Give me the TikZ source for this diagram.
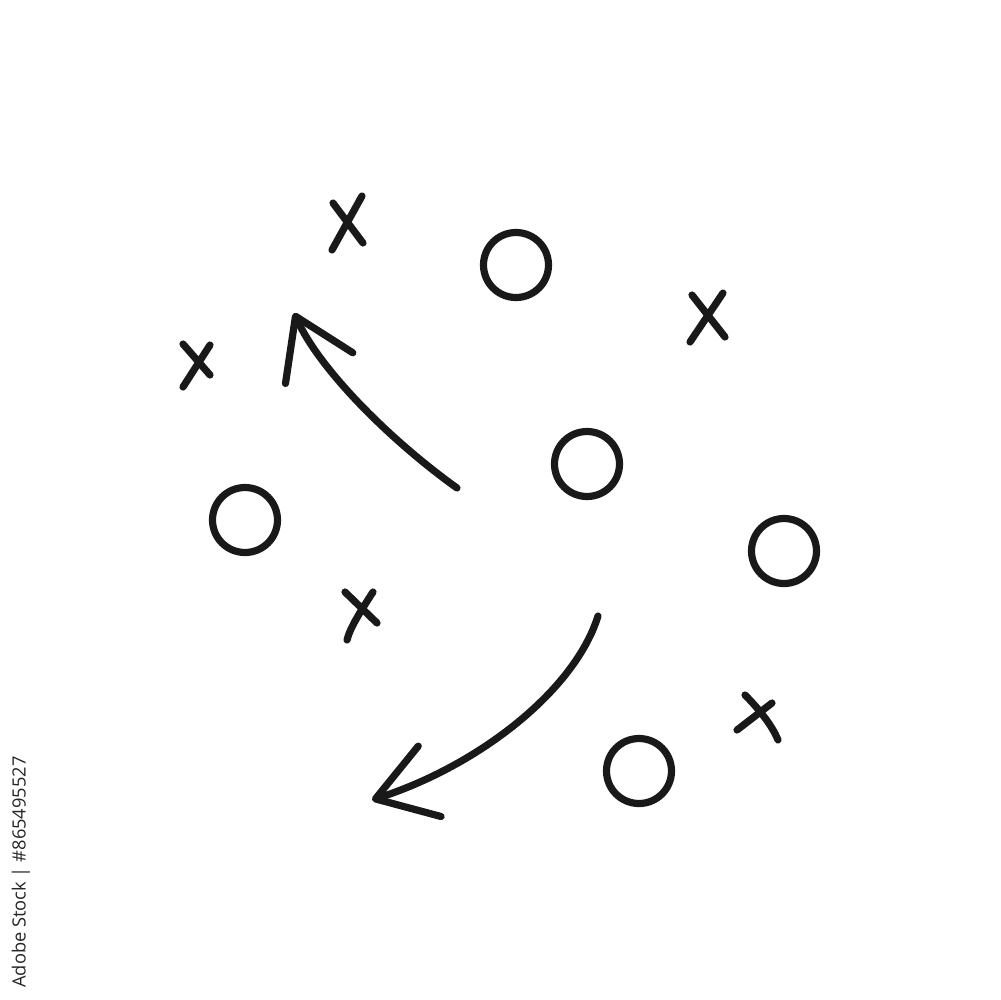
\documentclass[tikz,border=0pt]{standalone}
\usepackage{fontspec}
\newfontfamily\stockfont{Open Sans}
\usepackage{tikz}
\usetikzlibrary{arrows.meta}

\begin{document}
\begin{tikzpicture}[x=0.1mm, y=-0.1mm,
	pen/.style={line width=0.72mm, line cap=round, line join=round, black!90},
	barb/.style={-{Straight Barb[length=5.7mm, width=7.4mm, round]}}]
	\useasboundingbox (0,0) rectangle (1000,1000);
	%
	\draw[pen] (516,265) circle[radius=3.25mm];
	\draw[pen] (587,464) circle[radius=3.25mm];
	\draw[pen] (245,520) circle[radius=3.25mm];
	\draw[pen] (784,551) circle[radius=3.25mm];
	\draw[pen] (639,771) circle[radius=3.25mm];
	%
	\draw[pen] (362,196) -- (332,250);
	\draw[pen] (333,203) -- (363,243);
	\draw[pen] (210,345) -- (183,387);
	\draw[pen] (183,344) -- (210,375);
	\draw[pen] (723,293) -- (690,342);
	\draw[pen] (692,295) -- (725,337);
	\draw[pen] (345,592) -- (377,623);
	\draw[pen] (373,592) .. controls (360,612) and (350,628) .. (347,640);
	\draw[pen] (737,730) -- (772,703);
	\draw[pen] (745,695) .. controls (758,708) and (772,725) .. (778,740);
	%
	\draw[pen, barb] (457,488) .. controls (390,440) and (320,370) .. (294,313);
	\draw[pen, barb] (598,616) .. controls (575,690) and (480,765) .. (372,800);
	%
	\node[rotate=90, inner sep=0pt, text=black!85, font=\stockfont\fontsize{5.2pt}{6pt}\selectfont]
		(stockid) at (21,872) {Adobe Stock | \#865495527};
\end{tikzpicture}
\end{document}
